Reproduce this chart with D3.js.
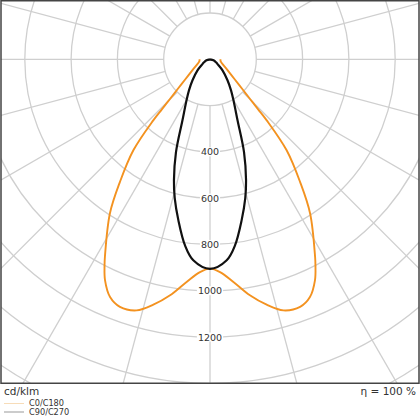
<!DOCTYPE html>
<html>
<head>
	<script src="https://d3js.org/d3.v7.min.js"></script>
	<style>
		body { margin: 0; background: #fff; }
		text { font-family: "DejaVu Sans", sans-serif; }
	</style>
</head>
<body>
<svg></svg>
<script>
	// gamma angles (deg from nadir) and intensities (cd/klm), one half of each symmetric curve
	var c0Angles = [0, 2.7, 6, 9.6, 13, 16.3, 20, 22.8, 25.4, 27.1, 28, 33, 36.3, 40.1, 42.9, 43.9, 45.2, 47.3, 51, 59.4, 79.4, 90];
	var c0Values = [904, 920, 967, 1034, 1088, 1130, 1138, 1114, 1057, 1000, 967, 794, 657, 514, 360, 300, 245, 191, 137, 85, 47, 45];
	var c90Angles = [0, 4.75, 7.65, 11.1, 14.25, 16.6, 20.1, 24.3, 29.8, 34.1, 39.8, 48.6, 54.8, 63.4, 74, 90];
	var c90Values = [905, 871, 811, 709, 619, 545, 428, 289, 204, 162, 118, 72, 45, 29, 16, 0];
	var rings = [200, 400, 600, 800, 1000, 1200, 1400, 1600, 1800];
	var ringLabels = [400, 600, 800, 1000, 1200];
	var spokes = d3.range(0, 360, 15);
	var seriesNames = ["C0/C180", "C90/C270"];

	var width = 420, height = 420;
	var frame = {x: 1, y: 0.75, w: 418, h: 382.5};
	var cx = 210, cy = 59.3;

	var r = d3.scaleLinear().domain([0, 1000]).range([0, 231.5]);

	var svg = d3.select("svg")
		.attr("width", width)
		.attr("height", height);

	svg.append("clipPath").attr("id", "clip")
		.append("rect")
		.attr("x", frame.x).attr("y", frame.y)
		.attr("width", frame.w).attr("height", frame.h);

	var plot = svg.append("g").attr("clip-path", "url(#clip)");
	var g = plot.append("g").attr("transform", "translate(" + cx + "," + cy + ")");

	// grid circles
	g.selectAll("circle.ring")
		.data(rings)
		.enter().append("circle")
		.attr("class", "ring")
		.attr("r", function(d) { return r(d); })
		.attr("fill", "none")
		.attr("stroke", "#cfcfcf")
		.attr("stroke-width", 1.3);

	// spokes every 15 deg, starting at the 200 ring
	g.selectAll("line.spoke")
		.data(spokes)
		.enter().append("line")
		.attr("class", "spoke")
		.attr("x1", function(d) { return r(200) * Math.sin(d * Math.PI / 180); })
		.attr("y1", function(d) { return r(200) * Math.cos(d * Math.PI / 180); })
		.attr("x2", function(d) { return r(2000) * Math.sin(d * Math.PI / 180); })
		.attr("y2", function(d) { return r(2000) * Math.cos(d * Math.PI / 180); })
		.attr("stroke", "#cfcfcf")
		.attr("stroke-width", 1.3);

	// mirror the half curve to both sides of the nadir
	function fullCurve(angles, vals) {
		var pts = [];
		for (var i = angles.length - 1; i > 0; i--) pts.push({t: -angles[i], v: vals[i]});
		for (var j = 0; j < angles.length; j++) pts.push({t: angles[j], v: vals[j]});
		return pts;
	}

	var line = d3.lineRadial()
		.angle(function(d) { return Math.PI - d.t * Math.PI / 180; })
		.radius(function(d) { return r(d.v); })
		.curve(d3.curveCatmullRom.alpha(0.5));

	g.append("path")
		.datum(fullCurve(c0Angles, c0Values))
		.attr("d", line)
		.attr("fill", "none")
		.attr("stroke", "#f39220")
		.attr("stroke-width", 1.9);

	g.append("path")
		.datum(fullCurve(c90Angles, c90Values))
		.attr("d", line)
		.attr("fill", "none")
		.attr("stroke", "#111")
		.attr("stroke-width", 2.2);

	// ring value labels on the nadir axis
	var lab = g.selectAll("g.lab")
		.data(ringLabels)
		.enter().append("g")
		.attr("class", "lab")
		.attr("transform", function(d) { return "translate(0," + r(d) + ")"; });
	lab.append("text")
		.attr("text-anchor", "middle")
		.attr("dy", "0.36em")
		.attr("font-size", 9.5)
		.attr("fill", "#333")
		.text(function(d) { return d; });
	lab.each(function() {
		var t = d3.select(this).select("text");
		var b = t.node().getBBox();
		d3.select(this).insert("rect", "text")
			.attr("x", b.x - 1).attr("y", b.y + 1)
			.attr("width", b.width + 2).attr("height", b.height - 2)
			.attr("fill", "#fff");
	});

	// frame
	svg.append("rect")
		.attr("x", frame.x).attr("y", frame.y)
		.attr("width", frame.w).attr("height", frame.h)
		.attr("fill", "none")
		.attr("stroke", "#444")
		.attr("stroke-width", 1.5);

	svg.append("text")
		.attr("x", 4).attr("y", 395)
		.attr("font-size", 10.5)
		.attr("fill", "#333")
		.text("cd/klm");

	svg.append("text")
		.attr("x", 416).attr("y", 395)
		.attr("text-anchor", "end")
		.attr("font-size", 10.5)
		.attr("fill", "#333")
		.text("η = 100 %");

	// legend
	var legColors = ["#f7dcb8", "#999"];
	var leg = svg.selectAll("g.leg")
		.data(seriesNames)
		.enter().append("g")
		.attr("class", "leg")
		.attr("transform", function(d, i) { return "translate(0," + (403.5 + i * 8.5) + ")"; });
	leg.append("line")
		.attr("x1", 4).attr("x2", 24)
		.attr("stroke", function(d, i) { return legColors[i]; })
		.attr("stroke-width", 1);
	leg.append("text")
		.attr("x", 29).attr("dy", "0.35em")
		.attr("font-size", 8.2)
		.attr("fill", "#333")
		.text(function(d) { return d; });
</script>
</body>
</html>
